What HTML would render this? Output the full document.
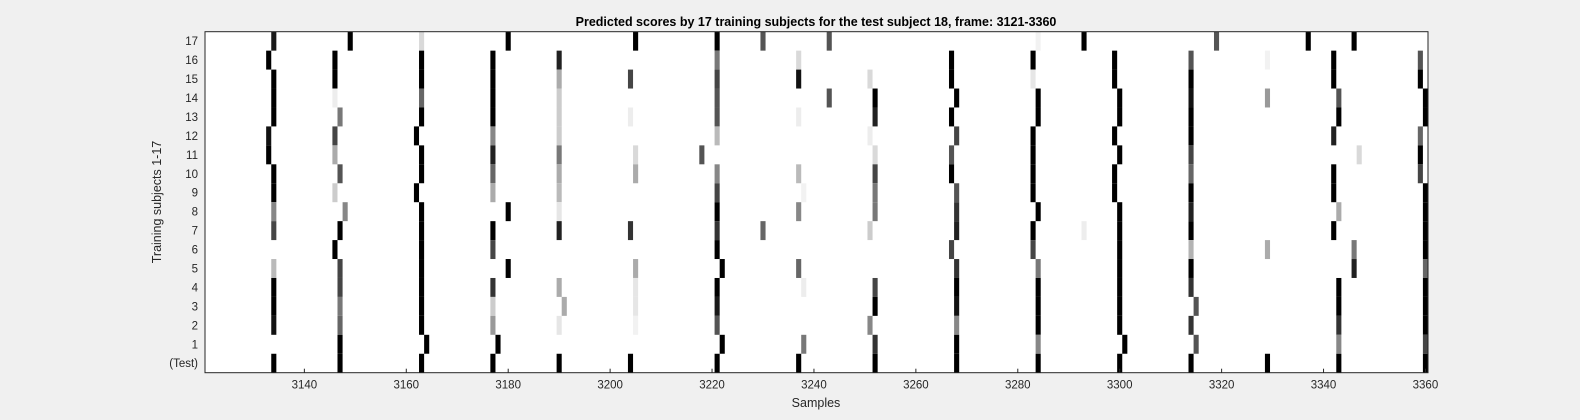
<!DOCTYPE html>
<html><head><meta charset="utf-8">
<style>
html,body{margin:0;padding:0;background:#f0f0f0;}
svg{display:block;font-family:"Liberation Sans",Arial,sans-serif;}
</style></head>
<body>
<svg id="chart" width="1580" height="420" viewBox="0 0 1580 420" xmlns="http://www.w3.org/2000/svg">
<rect x="0" y="0" width="1580" height="420" fill="#f0f0f0"/>
<text x="816" y="26" text-anchor="middle" font-size="12.5" font-weight="bold" fill="#000">Predicted scores by 17 training subjects for the test subject 18, frame: 3121-3360</text>
<rect x="205" y="31.7" width="1223" height="341" fill="#fff"/>
<g id="cells"></g>
<g id="axes"></g>
<rect x="205" y="31.7" width="1223" height="341" fill="none" stroke="#262626" stroke-width="1"/>
<text x="816" y="407" text-anchor="middle" font-size="12.5" fill="#262626">Samples</text>
<text x="0" y="0" transform="translate(161,202) rotate(-90)" text-anchor="middle" font-size="12.5" fill="#262626">Training subjects 1-17</text>
</svg>
<script>
const rowLabels = ["17","16","15","14","13","12","11","10","9","8","7","6","5","4","3","2","1","(Test)"];
const xTicks = [3140,3160,3180,3200,3220,3240,3260,3280,3300,3320,3340,3360];
const xStart = 3121, xEnd = 3360;
// per row: sample indices and darkness (1 = black)
const s17 = [3134,3149,3163,3180,3205,3221,3230,3243,3284,3293,3319,3337,3346];
const d17 = [0.9,1,0.15,1,1,1,0.67,0.67,0.05,1,0.67,1,1];
const s16 = [3133,3146,3163,3177,3190,3221,3237,3267,3283,3299,3314,3329,3342,3359];
const d16 = [1,1,1,1,0.87,0.53,0.15,1,1,1,0.67,0.05,1,0.67];
const s15 = [3134,3146,3163,3177,3190,3204,3221,3237,3251,3267,3283,3299,3314,3342,3359];
const d15 = [1,1,1,1,0.33,0.73,0.73,0.93,0.15,1,0.1,1,1,1,1];
const s14 = [3134,3146,3163,3177,3190,3221,3243,3252,3268,3284,3300,3314,3329,3343,3360];
const d14 = [1,0.07,0.6,1,0.2,0.67,0.67,1,1,1,1,0.93,0.4,0.67,1];
const s13 = [3134,3147,3163,3177,3190,3204,3221,3237,3252,3267,3284,3300,3314,3343,3360];
const d13 = [1,0.53,1,1,0.2,0.07,0.67,0.07,0.87,1,1,1,1,1,1];
const s12 = [3133,3146,3162,3177,3190,3221,3251,3268,3283,3299,3314,3342,3359];
const d12 = [0.93,0.73,1,0.47,0.2,0.27,0.07,0.73,1,1,1,0.87,0.6];
const s11 = [3133,3146,3163,3177,3190,3205,3218,3252,3267,3283,3300,3314,3347,3359];
const d11 = [1,0.33,1,0.87,0.53,0.15,0.67,0.15,0.67,1,1,0.73,0.15,1];
const s10 = [3134,3147,3163,3177,3190,3205,3221,3237,3252,3267,3283,3299,3314,3342,3359];
const d10 = [1,0.67,1,0.6,0.33,0.33,0.47,0.27,0.73,1,1,1,0.6,1,0.73];
const s9 = [3134,3146,3162,3177,3190,3221,3238,3252,3268,3283,3299,3314,3342,3360];
const d9 = [1,0.2,1,0.33,0.27,0.73,0.05,0.53,0.67,1,1,1,1,1];
const s8 = [3134,3148,3163,3180,3190,3221,3237,3252,3268,3284,3300,3314,3343,3360];
const d8 = [0.47,0.47,1,1,0.1,1,0.47,0.53,0.8,1,1,0.87,0.33,1];
const s7 = [3134,3147,3163,3177,3190,3204,3221,3230,3251,3268,3283,3293,3300,3314,3342,3360];
const d7 = [0.73,1,1,1,0.87,0.8,0.8,0.6,0.2,0.87,1,0.07,1,1,1,1];
const s6 = [3146,3163,3177,3221,3267,3283,3300,3314,3329,3346,3360];
const d6 = [1,1,0.73,1,0.73,0.73,1,0.3,0.33,0.53,1];
const s5 = [3134,3147,3163,3180,3205,3222,3237,3268,3284,3300,3314,3346,3360];
const d5 = [0.27,0.73,1,1,0.33,1,0.6,0.8,0.53,1,1,0.87,0.6];
const s4 = [3134,3147,3163,3177,3190,3205,3221,3238,3252,3268,3284,3300,3314,3343,3360];
const d4 = [1,0.73,1,0.8,0.33,0.1,1,0.07,0.73,1,1,1,0.8,1,1];
const s3 = [3134,3147,3163,3177,3191,3205,3221,3252,3268,3284,3300,3315,3343,3360];
const d3 = [1,0.53,1,0.2,0.33,0.1,0.9,1,0.93,1,1,0.67,1,1];
const s2 = [3134,3147,3163,3177,3190,3205,3221,3251,3268,3284,3300,3314,3343,3360];
const d2 = [0.93,0.6,1,0.4,0.1,0.05,0.67,0.47,0.47,1,1,0.8,0.8,1];
const s1 = [3147,3164,3178,3222,3238,3252,3268,3284,3301,3315,3343,3360];
const d1 = [1,1,1,1,0.53,0.8,1,0.47,1,0.67,0.47,0.73];
const sTest = [3134,3147,3163,3177,3190,3204,3221,3237,3252,3268,3284,3300,3314,3329,3343,3360];
const dTest = [1,1,1,1,1,1,1,1,1,1,1,1,1,1,1,1];

const rowSamples = [s17,s16,s15,s14,s13,s12,s11,s10,s9,s8,s7,s6,s5,s4,s3,s2,s1,sTest];
const rowDark = [d17,d16,d15,d14,d13,d12,d11,d10,d9,d8,d7,d6,d5,d4,d3,d2,d1,dTest];

const NS = "http://www.w3.org/2000/svg";
const plotL = 205, plotR = 1428, plotT = 31.7, plotB = 372.7;
const cw = (plotR - plotL) / (xEnd - xStart + 1);
const rh = (plotB - plotT) / rowLabels.length;
function xScale(v){ return plotL + (v - xStart + 0.5) * cw; }
function yScale(i){ return plotT + i * rh; }

const cells = document.getElementById('cells');
rowSamples.forEach((samples, r) => {
  samples.forEach((s, j) => {
    const g = Math.round(255 * (1 - rowDark[r][j]));
    const rect = document.createElementNS(NS, 'rect');
    rect.setAttribute('x', (xScale(s) - cw / 2).toFixed(2));
    rect.setAttribute('y', yScale(r).toFixed(2));
    rect.setAttribute('width', cw.toFixed(2));
    rect.setAttribute('height', rh.toFixed(2));
    rect.setAttribute('fill', `rgb(${g},${g},${g})`);
    
    
    cells.appendChild(rect);
  });
});

const axes = document.getElementById('axes');
xTicks.forEach(t => {
  const x = xScale(t);
  const ln = document.createElementNS(NS, 'line');
  ln.setAttribute('x1', x); ln.setAttribute('x2', x);
  ln.setAttribute('y1', plotB); ln.setAttribute('y2', plotB - 4);
  ln.setAttribute('stroke', '#262626');
  
  
  axes.appendChild(ln);
  const tx = document.createElementNS(NS, 'text');
  tx.setAttribute('x', x); tx.setAttribute('y', plotB + 16);
  tx.setAttribute('text-anchor', 'middle');
  tx.setAttribute('font-size', '11.5');
  tx.setAttribute('fill', '#262626');
  tx.textContent = t;
  
  
  axes.appendChild(tx);
});
rowLabels.forEach((lab, i) => {
  const y = yScale(i) + rh / 2;
  const tx = document.createElementNS(NS, 'text');
  tx.setAttribute('x', 198); tx.setAttribute('y', y + 4);
  tx.setAttribute('text-anchor', 'end');
  tx.setAttribute('font-size', '11.5');
  tx.setAttribute('fill', '#262626');
  tx.textContent = lab;
  
  
  axes.appendChild(tx);
});
</script>
</body></html>
